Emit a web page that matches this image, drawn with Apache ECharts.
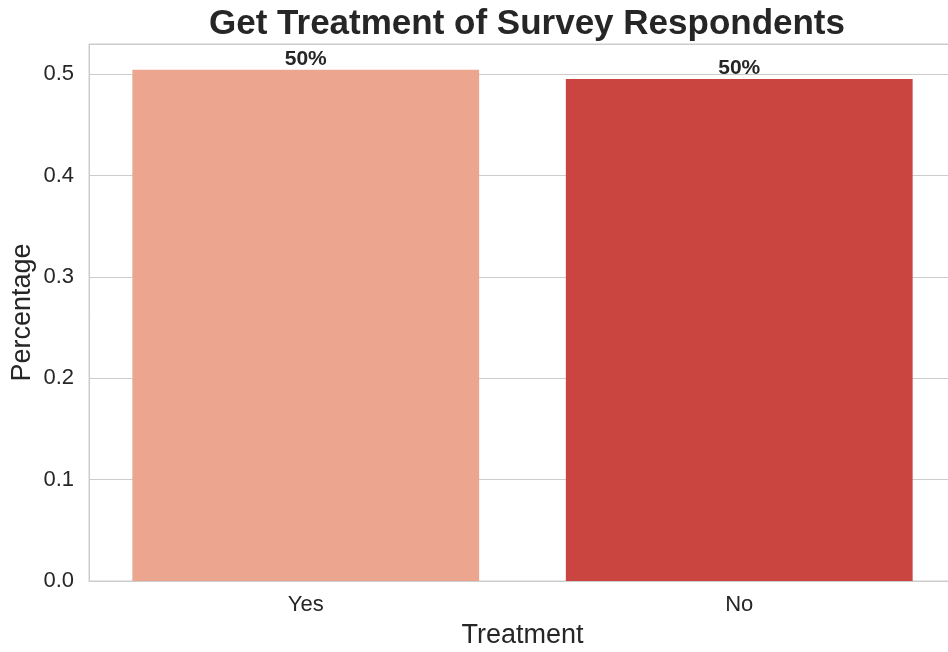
<!DOCTYPE html>
<html>
<head>
<meta charset="utf-8">
<script src="https://cdn.jsdelivr.net/npm/echarts@6/dist/echarts.min.js"></script>
<style>
  html, body { margin: 0; padding: 0; background: #ffffff; }
  #chart { width: 948px; height: 652px; }
</style>
</head>
<body>
<div id="chart"></div>
<script>
// Share of respondents who sought treatment
const categories = ['Yes', 'No'];
const shares = [0.5045, 0.4955];
const barColors = ['#eca58f', '#cb4540'];
const yTicks = [0, 0.1, 0.2, 0.3, 0.4, 0.5];

const FONT = '"Liberation Sans", Arial, sans-serif';
const INK = '#262626';

const chart = echarts.init(document.getElementById('chart'), null, { renderer: 'canvas' });

chart.setOption({
  backgroundColor: '#ffffff',
  animation: false,
  title: {
    text: 'Get Treatment of Survey Respondents',
    left: 522,
    textAlign: 'center',
    top: 2,
    textStyle: { fontFamily: FONT, fontSize: 35, fontWeight: 'bold', color: INK }
  },
  grid: {
    left: 89, top: 44, width: 867, height: 537,
    outerBoundsMode: 'none',
    show: true, borderColor: '#cccccc', borderWidth: 1,
    containLabel: false
  },
  xAxis: {
    type: 'category',
    data: categories,
    name: 'Treatment',
    nameLocation: 'middle',
    nameGap: 41,
    nameMoveOverlap: false,
    nameTextStyle: { fontFamily: FONT, fontSize: 27, color: INK },
    axisLine: { show: true, lineStyle: { color: '#cccccc', width: 1 } },
    axisTick: { show: false },
    axisLabel: { fontFamily: FONT, fontSize: 22, color: INK, margin: 13 },
    splitLine: { show: false }
  },
  yAxis: {
    type: 'value',
    min: 0,
    max: 0.53,
    interval: 0.1,
    name: 'Percentage',
    nameLocation: 'middle',
    nameGap: 53,
    nameMoveOverlap: false,
    nameTextStyle: { fontFamily: FONT, fontSize: 27, color: INK },
    axisLine: { show: true, lineStyle: { color: '#cccccc', width: 1 } },
    axisTick: { show: false },
    axisLabel: {
      fontFamily: FONT, fontSize: 22, color: INK, margin: 15,
      showMaxLabel: false,
      formatter: v => (yTicks.some(t => Math.abs(t - v) < 1e-9) ? v.toFixed(1) : '')
    },
    splitLine: { show: true, lineStyle: { color: '#cccccc', width: 1 } }
  },
  series: [{
    type: 'bar',
    barCategoryGap: '20%',
    data: shares.map((v, i) => ({ value: v, itemStyle: { color: barColors[i] } })),
    label: {
      show: true,
      position: 'top',
      distance: 0,
      fontFamily: FONT,
      fontSize: 21,
      fontWeight: 'bold',
      color: INK,
      formatter: p => Math.round(p.value * 100) + '%'
    }
  }]
});
</script>
</body>
</html>
